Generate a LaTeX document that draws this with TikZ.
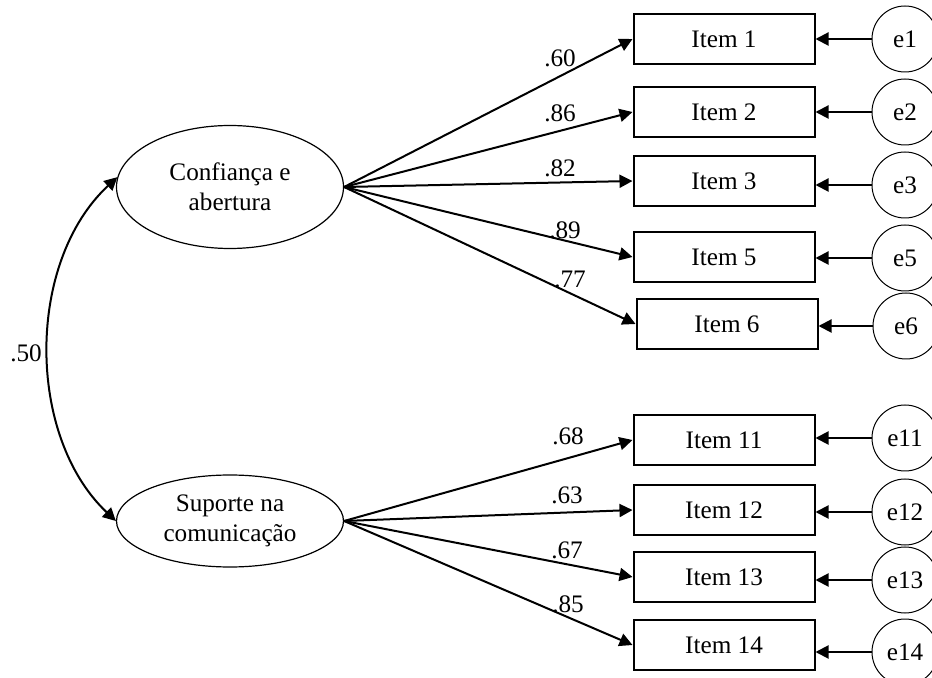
\documentclass[tikz,border=0pt]{standalone}
\usepackage{fontspec}
\setmainfont{Liberation Serif}
\usetikzlibrary{arrows.meta, shapes.geometric}

\begin{document}
\begin{tikzpicture}[
        x=0.5pt, y=-0.5pt,
        font=\fontsize{12.6}{15}\selectfont,
        latent/.style={ellipse, draw, line width=0.6pt, inner sep=0pt, align=center, minimum width=113.5pt},
        item/.style={rectangle, draw, line width=1pt, minimum width=90.5pt, minimum height=25pt, inner sep=0pt},
        err/.style={circle, draw, line width=0.5pt, minimum size=33pt, inner sep=0pt},
        arrow/.style={-{Triangle[length=6.5pt, width=6.5pt]}, line width=1pt},
        load/.style={inner sep=0pt}
    ]
        \useasboundingbox (0,0) rectangle (932,678);

        % latent factors
        \node[latent, minimum height=61.5pt] (CA) at (230,187) {Confiança e\\abertura};
        \node[latent, minimum height=46pt] (SC) at (230,521) {Suporte na\\comunicação};

        % observed items
        \node[item] (I1) at (724,39) {Item 1};
        \node[item] (I2) at (724,112) {Item 2};
        \node[item] (I3) at (724,181) {Item 3};
        \node[item] (I5) at (724,257) {Item 5};
        \node[item] (I6) at (727,324) {Item 6};
        \node[item] (I11) at (724,440) {Item 11};
        \node[item] (I12) at (724,510) {Item 12};
        \node[item] (I13) at (724,577) {Item 13};
        \node[item] (I14) at (724,645) {Item 14};

        % error terms
        \node[err] (e1) at (905,39) {e1};
        \node[err] (e2) at (905,112) {e2};
        \node[err] (e3) at (905,185) {e3};
        \node[err] (e5) at (905,258) {e5};
        \node[err] (e6) at (906,326) {e6};
        \node[err] (e11) at (905,438) {e11};
        \node[err] (e12) at (905,512) {e12};
        \node[err] (e13) at (905,580) {e13};
        \node[err] (e14) at (905,652) {e14};

        % loadings
        \draw[arrow] (CA.east) -- (I1.west);
        \draw[arrow] (CA.east) -- (I2.west);
        \draw[arrow] (CA.east) -- (I3.west);
        \draw[arrow] (CA.east) -- (I5.west);
        \draw[arrow] (CA.east) -- (I6.west);
        \draw[arrow] (SC.east) -- (I11.west);
        \draw[arrow] (SC.east) -- (I12.west);
        \draw[arrow] (SC.east) -- (I13.west);
        \draw[arrow] (SC.east) -- (I14.west);

        \node[load] (l1) at (560,58) {.60};
        \node[load] (l2) at (560,113) {.86};
        \node[load] (l3) at (560,168) {.82};
        \node[load] (l5) at (565,230) {.89};
        \node[load] (l6) at (570,279) {.77};
        \node[load] (l11) at (568,436) {.68};
        \node[load] (l12) at (567,495) {.63};
        \node[load] (l13) at (567,550) {.67};
        \node[load] (l14) at (568,604) {.85};

        % errors to items
        \draw[arrow] (e1) -- (e1 -| I1.east);
        \draw[arrow] (e2) -- (e2 -| I2.east);
        \draw[arrow] (e3) -- (e3 -| I3.east);
        \draw[arrow] (e5) -- (e5 -| I5.east);
        \draw[arrow] (e6) -- (e6 -| I6.east);
        \draw[arrow] (e11) -- (e11 -| I11.east);
        \draw[arrow] (e12) -- (e12 -| I12.east);
        \draw[arrow] (e13) -- (e13 -| I13.east);
        \draw[arrow] (e14) -- (e14 -| I14.east);

        % correlation
        \draw[arrow, {Triangle[length=6.5pt, width=6.5pt]}-{Triangle[length=6.5pt, width=6.5pt]}]
            (CA.175) .. controls (26,262) and (26,436) .. (SC.west);
        \node[load] (r) at (26,353) {.50};
    \end{tikzpicture}
\end{document}
